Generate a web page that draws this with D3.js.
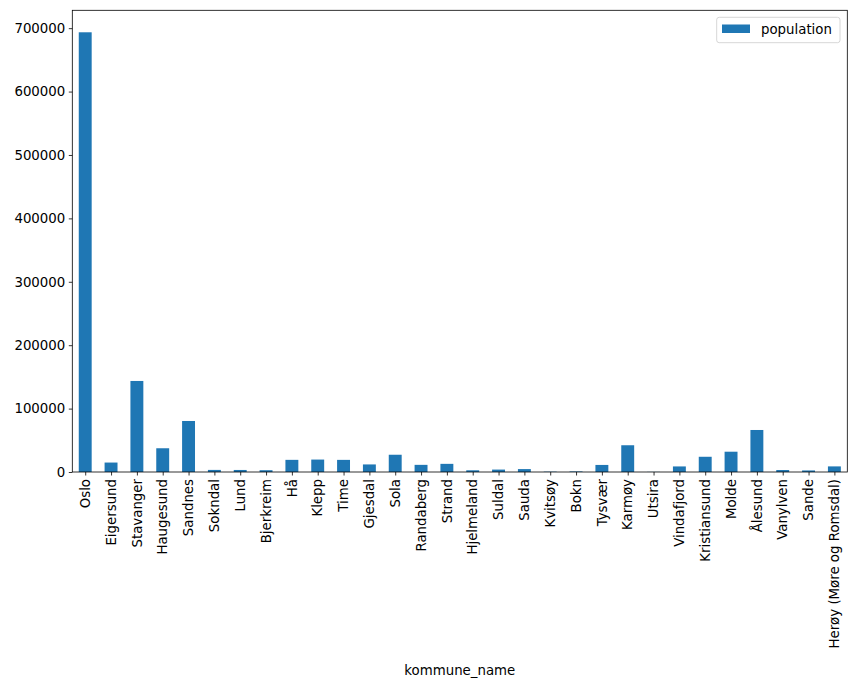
<!DOCTYPE html>
<html>
<head>
<meta charset="utf-8">
<script src="https://cdn.jsdelivr.net/npm/d3@7"></script>
<style>
html,body{margin:0;padding:0;background:#fff;}
svg{display:block;font-family:"DejaVu Sans",sans-serif;}
</style>
</head>
<body>
<svg id="chart" width="857" height="688"></svg>
<script>
const categories = ["Oslo","Eigersund","Stavanger","Haugesund","Sandnes","Sokndal","Lund","Bjerkreim","Hå","Klepp","Time","Gjesdal","Sola","Randaberg","Strand","Hjelmeland","Suldal","Sauda","Kvitsøy","Bokn","Tysvær","Karmøy","Utsira","Vindafjord","Kristiansund","Molde","Ålesund","Vanylven","Sande","Herøy (Møre og Romsdal)"];
const population = [693494,14900,143574,37444,80450,3305,3218,2836,19156,19603,19125,11932,27221,11268,12850,2697,3814,4595,520,871,11139,42186,201,8781,24013,32002,66258,3109,2449,8839];
const yTicks = [0,100000,200000,300000,400000,500000,600000,700000];
const seriesName = "population";
const xLabel = "kommune_name";

(function(){
const svg = d3.select("#chart");
const mLeft = 72.3, mRight = 847.3, mTop = 10.3, mBottom = 472;
const color = "#1f77b4";

const x = d3.scaleLinear().domain([-0.5, categories.length - 0.5]).range([mLeft, mRight]);
const yMax = d3.max(population) * 1.05;
const y = d3.scaleLinear().domain([0, yMax]).range([mBottom, mTop]);

// bars
svg.append("g").selectAll("rect").data(population).join("rect")
  .attr("x", (d,i) => x(i - 0.25))
  .attr("width", (d,i) => x(i + 0.25) - x(i - 0.25))
  .attr("y", d => y(d))
  .attr("height", d => y(0) - y(d))
  .attr("fill", color);

// y axis
const yAxis = d3.axisLeft(y).tickValues(yTicks).tickFormat(d3.format("d")).tickSize(3.5).tickPadding(3.5);
const gy = svg.append("g").attr("transform", `translate(${mLeft},0)`).call(yAxis);
gy.select(".domain").remove();
gy.selectAll(".tick line").attr("stroke", "#000").attr("stroke-width", 0.8);
gy.selectAll(".tick text").attr("font-size", "13.33px").attr("fill", "#000").attr("font-family", "DejaVu Sans");

// x axis
const xAxis = d3.axisBottom(x).tickValues(d3.range(categories.length)).tickFormat(i => categories[i]).tickSize(3.5).tickPadding(3.5);
const gx = svg.append("g").attr("transform", `translate(0,${mBottom})`).call(xAxis);
gx.select(".domain").remove();
gx.selectAll(".tick line").attr("stroke", "#000").attr("stroke-width", 0.8);
gx.selectAll(".tick text")
  .attr("font-size", "13.33px").attr("fill", "#000").attr("font-family", "DejaVu Sans")
  .attr("transform", "rotate(-90)")
  .attr("text-anchor", "end")
  .attr("x", -7).attr("y", 0).attr("dy", "0.32em");

// frame
svg.append("rect").attr("x", mLeft).attr("y", mTop).attr("width", mRight - mLeft).attr("height", mBottom - mTop)
  .attr("fill", "none").attr("stroke", "#000").attr("stroke-width", 0.8);

// x label
svg.append("text").attr("x", (mLeft + mRight) / 2).attr("y", 675).attr("text-anchor", "middle")
  .attr("font-size", "13.33px").attr("fill", "#000").text(xLabel);

// legend
const lg = svg.append("g");
lg.append("rect").attr("x", 716.7).attr("y", 17.3).attr("width", 123.3).attr("height", 25.4)
  .attr("rx", 2.5).attr("fill", "#fff").attr("fill-opacity", 0.8).attr("stroke", "#ccc").attr("stroke-width", 0.8);
lg.append("rect").attr("x", 722).attr("y", 24.5).attr("width", 28).attr("height", 8.5).attr("fill", color);
lg.append("text").attr("x", 761).attr("y", 29).attr("dy", "0.35em").attr("font-size", "13.33px").attr("fill", "#000").text(seriesName);
})();
</script>
</body>
</html>
